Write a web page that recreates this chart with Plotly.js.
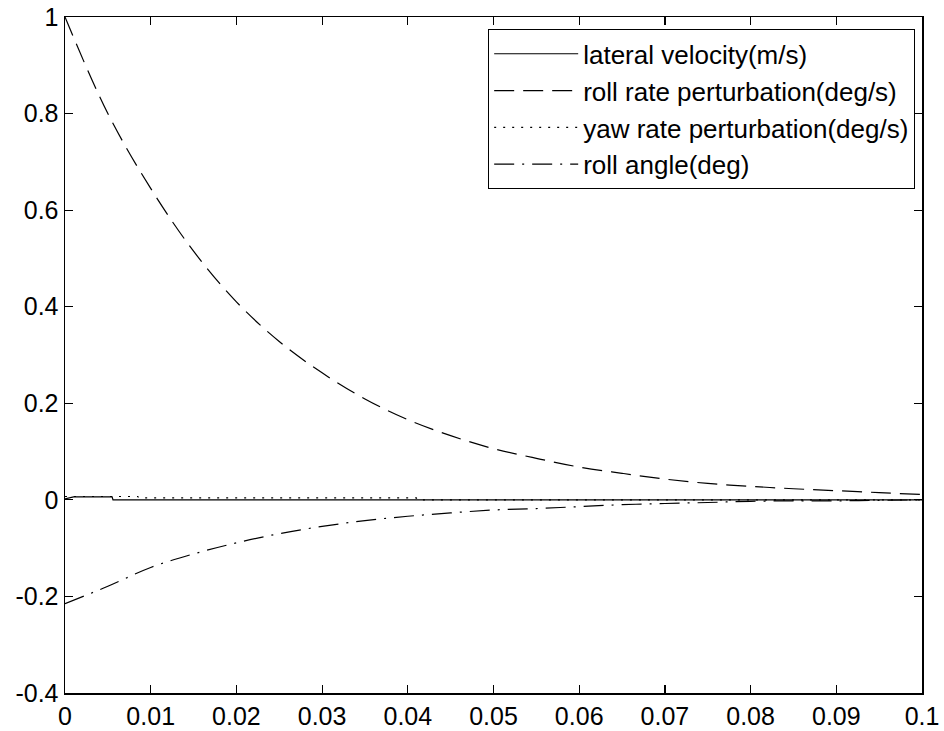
<!DOCTYPE html>
<html>
<head>
<meta charset="utf-8">
<script src="https://cdn.plot.ly/plotly-3.0.1.min.js"></script>
<style>html,body{margin:0;padding:0;background:#fff;}#chart{width:944px;height:731px;}</style>
</head>
<body>
<div id="chart"></div>
<script>
// Time grid (s) for roll rate / roll angle
const tGrid = [0, 0.005, 0.01, 0.015, 0.02, 0.025, 0.03, 0.035, 0.04, 0.045, 0.05,
               0.055, 0.06, 0.065, 0.07, 0.075, 0.08, 0.085, 0.09, 0.095, 0.1];
const rollRate = [1.0, 0.80, 0.645, 0.515, 0.41, 0.328, 0.263, 0.209, 0.166, 0.133, 0.106,
                  0.086, 0.068, 0.055, 0.043, 0.034, 0.028, 0.023, 0.019, 0.015, 0.011];
const rollAngle = [-0.215, -0.179, -0.140, -0.112, -0.089, -0.070, -0.055, -0.043, -0.034, -0.027, -0.021,
                   -0.018, -0.014, -0.010, -0.0075, -0.0055, -0.003, -0.002, -0.002, -0.001, 0];
// lateral velocity
const tLat = [0, 0.001, 0.0055, 0.0056, 0.05, 0.1];
const latVel = [0.002, 0.006, 0.006, 0, 0, 0];
// yaw rate
const tYaw = [0, 0.004, 0.0085, 0.0086, 0.02, 0.041, 0.0411, 0.07, 0.1];
const yawRate = [0.007, 0.007, 0.007, 0.004, 0.004, 0.004, 0, 0, 0];

const names = ['lateral velocity(m/s)', 'roll rate perturbation(deg/s)', 'yaw rate perturbation(deg/s)', 'roll angle(deg)'];
const xTicks = [0, 0.01, 0.02, 0.03, 0.04, 0.05, 0.06, 0.07, 0.08, 0.09, 0.1];
const xTickText = ['0', '0.01', '0.02', '0.03', '0.04', '0.05', '0.06', '0.07', '0.08', '0.09', '0.1'];
const yTicks = [-0.4, -0.2, 0, 0.2, 0.4, 0.6, 0.8, 1];
const yTickText = ['-0.4', '-0.2', '0', '0.2', '0.4', '0.6', '0.8', '1'];

const FONT = 'Liberation Sans, Arial, sans-serif';
const lw = 1.2;
const traces = [
  {x: tLat, y: latVel, name: names[0], mode: 'lines', line: {color: '#000', width: lw, dash: 'solid'}},
  {x: tGrid, y: rollRate, name: names[1], mode: 'lines', line: {color: '#000', width: lw, dash: '20px,9px', shape: 'spline'}},
  {x: tYaw, y: yawRate, name: names[2], mode: 'lines', line: {color: '#000', width: lw, dash: '2px,7px'}},
  {x: tGrid, y: rollAngle, name: names[3], mode: 'lines', line: {color: '#000', width: lw, dash: '20px,8px,2px,8px', shape: 'spline'}}
];

const axisCommon = {
  showline: true, linecolor: '#000', linewidth: 1.5, mirror: 'allticks',
  ticks: 'inside', ticklen: 8, tickwidth: 1.2, tickcolor: '#000',
  showgrid: false, zeroline: false,
  tickfont: {family: FONT, size: 25, color: '#000'}
};

const layout = {
  width: 944, height: 731,
  paper_bgcolor: '#fff', plot_bgcolor: '#fff',
  margin: {l: 65, r: 22, t: 17, b: 38, pad: 0},
  showlegend: true,
  xaxis: Object.assign({}, axisCommon, {range: [0, 0.1], tickvals: xTicks, ticktext: xTickText}),
  yaxis: Object.assign({}, axisCommon, {range: [-0.4, 1], tickvals: yTicks, ticktext: yTickText}),
  legend: {
    x: 0.9918, xanchor: 'right', y: 0.982, yanchor: 'top',
    bgcolor: '#fff', bordercolor: '#000', borderwidth: 1.2,
    font: {family: FONT, size: 26, color: '#000'},
    itemwidth: 84, tracegroupgap: 0
  }
};

Plotly.newPlot('chart', traces, layout, {displayModeBar: false, staticPlot: true});
</script>
</body>
</html>
